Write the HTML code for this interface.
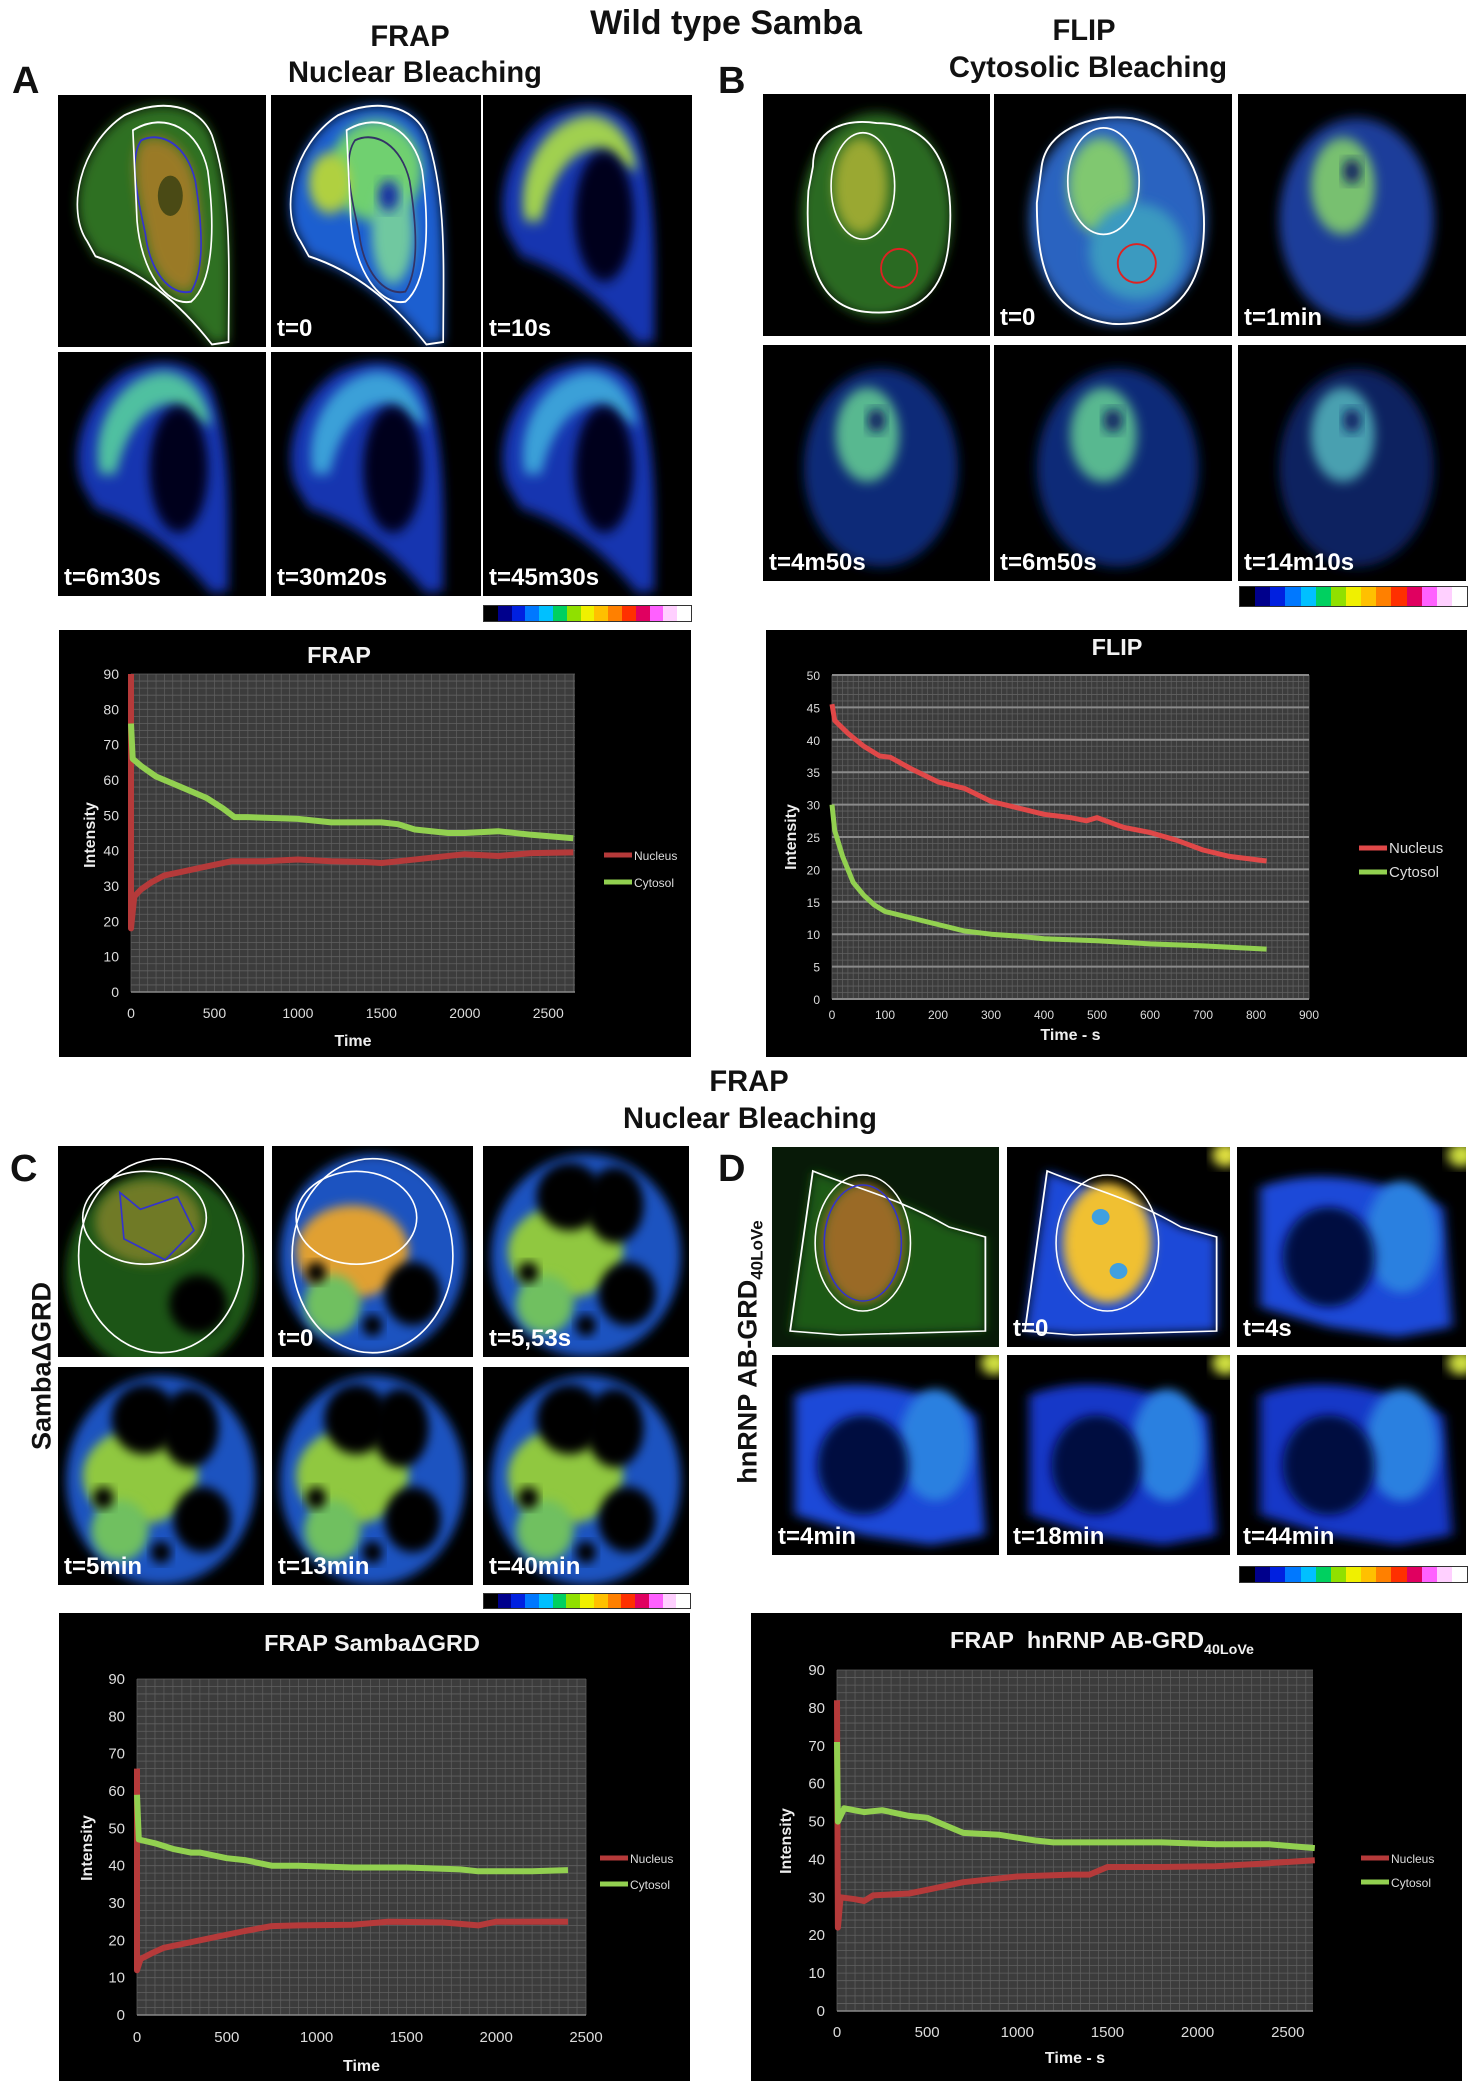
<!DOCTYPE html>
<html><head><meta charset="utf-8">
<style>
body{margin:0;background:#fff;width:1470px;height:2089px;position:relative;overflow:hidden;font-family:"Liberation Sans Narrow","Liberation Sans",sans-serif;}
.t{position:absolute;font-weight:bold;color:#111;white-space:nowrap;transform:translateX(-50%) scaleX(0.97);font-size:30px;line-height:1;}
.lbl{position:absolute;font-family:"Liberation Sans",sans-serif;font-weight:bold;font-size:38px;color:#111;line-height:1;}
.panel{position:absolute;background:#000;overflow:hidden;}
.panel svg{position:absolute;left:0;top:0;width:100%;height:100%;}
.tl{position:absolute;left:6px;bottom:4px;color:#fff;font-family:"Liberation Sans",sans-serif;font-weight:bold;font-size:24px;}
.cbar{position:absolute;display:flex;border:1px solid #333;}
.cbar div{flex:1;}
.chart{position:absolute;background:#000;}
.rot{position:absolute;font-family:"Liberation Sans",sans-serif;font-weight:bold;font-size:27px;color:#111;transform:translate(-50%,-50%) rotate(-90deg);white-space:nowrap;}
</style></head>
<body>
<div class="t" style="left:726px;top:6px;font-size:34px;transform:translateX(-50%)">Wild type Samba</div>
<div class="t" style="left:410px;top:22px">FRAP</div>
<div class="t" style="left:415px;top:58px">Nuclear Bleaching</div>
<div class="t" style="left:1084px;top:16px">FLIP</div>
<div class="t" style="left:1088px;top:53px">Cytosolic Bleaching</div>
<div class="lbl" style="left:12px;top:62px">A</div>
<div class="lbl" style="left:718px;top:62px">B</div>
<div class="t" style="left:749px;top:1067px">FRAP</div>
<div class="t" style="left:750px;top:1104px">Nuclear Bleaching</div>
<div class="lbl" style="left:10px;top:1150px">C</div>
<div class="lbl" style="left:718px;top:1150px">D</div>
<div class="rot" style="left:42px;top:1366px">SambaΔGRD</div>
<div class="rot" style="left:750px;top:1352px">hnRNP AB-GRD<sub style="font-size:17px">40LoVe</sub></div>

<div id="panels"></div>
<div id="charts"></div>

<script>
// ---------- microscopy panels ----------
const panelSpecs = [
 ['a1',58,95,208,252,'A-pre',''],['a2',271,95,210,252,'A-t0','t=0'],['a3',483,95,209,252,'A-l1','t=10s'],
 ['a4',58,352,208,244,'A-l2','t=6m30s'],['a5',271,352,210,244,'A-l3','t=30m20s'],['a6',483,352,209,244,'A-l3','t=45m30s'],
 ['b1',763,94,227,242,'B-pre',''],['b2',994,94,238,242,'B-t0','t=0'],['b3',1238,94,228,242,'B-l1','t=1min'],
 ['b4',763,345,227,236,'B-l2','t=4m50s'],['b5',994,345,238,236,'B-l2','t=6m50s'],['b6',1238,345,228,236,'B-l3','t=14m10s'],
 ['c1',58,1146,206,211,'C-pre',''],['c2',272,1146,201,211,'C-t0','t=0'],['c3',483,1146,206,211,'C-l1','t=5,53s'],
 ['c4',58,1367,206,218,'C-l2','t=5min'],['c5',272,1367,201,218,'C-l2','t=13min'],['c6',483,1367,206,218,'C-l2','t=40min'],
 ['d1',772,1147,227,200,'D-pre',''],['d2',1007,1147,223,200,'D-t0','t=0'],['d3',1237,1147,229,200,'D-l1','t=4s'],
 ['d4',772,1355,227,200,'D-l1','t=4min'],['d5',1007,1355,223,200,'D-l2','t=18min'],['d6',1237,1355,229,200,'D-l2','t=44min']
];
const cellA="M14,58 C4,46 10,20 32,8 C50,1 68,4 74,16 C84,40 82,70 82,98 L74,99 C58,82 40,70 18,64 Z";
const nucA="M40,18 C50,14 62,20 66,34 C70,55 70,70 64,78 C54,80 44,70 42,55 C38,40 34,25 40,18 Z";
const cellD="M18,12 C35,20 55,25 78,40 L94,45 L94,92 L30,94 L8,92 Z";
function content(kind){
 let s='<defs><filter id="bl" x="-20%" y="-20%" width="140%" height="140%"><feGaussianBlur stdDeviation="2.5"/></filter></defs>';
 const g='filter="url(#bl)"';
 if(kind==='A-pre'){s+=`<path d="${cellA}" fill="#2f7020" ${g}/><path d="${nucA}" fill="#9a7a25" ${g}/><ellipse cx="54" cy="40" rx="6" ry="8" fill="#4a4a15"/><path d="${cellA}" fill="none" stroke="#fff" stroke-width="0.8"/><path d="${nucA}" fill="none" stroke="#33c" stroke-width="0.8"/><path d="M36,14 C52,6 68,14 72,30 C76,55 74,75 64,82 C52,84 40,70 38,50 Z" fill="none" stroke="#fff" stroke-width="0.8"/>`;}
 if(kind==='A-t0'){s+=`<path d="${cellA}" fill="#1d5fd0" ${g}/><ellipse cx="50" cy="30" rx="22" ry="20" fill="#6fd070" ${g}/><ellipse cx="58" cy="55" rx="10" ry="20" fill="#70c8a0" ${g}/><ellipse cx="28" cy="35" rx="10" ry="12" fill="#b0d040" ${g}/><ellipse cx="56" cy="40" rx="5" ry="6" fill="#1830a0" ${g}/><path d="${cellA}" fill="none" stroke="#fff" stroke-width="0.8"/><path d="${nucA}" fill="none" stroke="#336" stroke-width="0.8"/><path d="M36,14 C52,6 68,14 72,30 C76,55 74,75 64,82 C52,84 40,70 38,50 Z" fill="none" stroke="#fff" stroke-width="0.8"/>`;}
 if(kind.startsWith('A-l')){const c=kind==='A-l1'?'#a0d050':(kind==='A-l2'?'#50c0a0':'#3aa0d8');s+=`<path d="${cellA}" fill="#1535b0" ${g}/><path d="M20,50 C15,30 30,10 50,8 C65,8 72,20 74,30 L66,28 C55,15 35,22 28,50 Z" fill="${c}" ${g}/><ellipse cx="58" cy="48" rx="14" ry="26" fill="#02061a" ${g}/>`;}
 if(kind==='B-pre'){s+=`<ellipse cx="50" cy="50" rx="33" ry="42" fill="#2c6a20" ${g}/><ellipse cx="43" cy="38" rx="12" ry="20" fill="#9aa830" ${g}/><path d="M22,30 C22,15 35,10 50,12 C75,12 85,30 82,60 C80,85 65,92 45,90 C25,88 18,70 20,40 Z" fill="none" stroke="#fff" stroke-width="0.8"/><ellipse cx="44" cy="38" rx="14" ry="22" fill="none" stroke="#fff" stroke-width="0.7"/><circle cx="60" cy="72" r="8" fill="none" stroke="#d22" stroke-width="0.8"/>`;}
 if(kind==='B-t0'){s+=`<ellipse cx="52" cy="52" rx="37" ry="43" fill="#2a64c0" ${g}/><ellipse cx="45" cy="38" rx="14" ry="20" fill="#80c870" ${g}/><ellipse cx="60" cy="65" rx="20" ry="20" fill="#3a9ac0" ${g}/><path d="M20,30 C22,15 40,8 58,10 C80,14 90,35 88,60 C86,85 70,96 50,95 C25,92 18,75 18,45 Z" fill="none" stroke="#fff" stroke-width="0.8"/><ellipse cx="46" cy="36" rx="15" ry="22" fill="none" stroke="#fff" stroke-width="0.7"/><circle cx="60" cy="70" r="8" fill="none" stroke="#d22" stroke-width="0.8"/>`;}
 if(kind.startsWith('B-l')){const k={'B-l1':['#1a3c9a','#78c070'],'B-l2':['#0f2a78','#58b890'],'B-l3':['#0c2060','#4aa0b0']}[kind];s+=`<ellipse cx="52" cy="52" rx="34" ry="42" fill="${k[0]}" ${g}/><ellipse cx="46" cy="38" rx="14" ry="20" fill="${k[1]}" ${g}/><ellipse cx="50" cy="32" rx="4" ry="5" fill="#0a1a60" ${g}/>`;}
 if(kind==='C-pre'){s+=`<ellipse cx="50" cy="60" rx="46" ry="48" fill="#1f5518" ${g}/><ellipse cx="44" cy="36" rx="26" ry="20" fill="#707a25" ${g}/><ellipse cx="68" cy="75" rx="14" ry="14" fill="#000" ${g}/><ellipse cx="50" cy="52" rx="40" ry="46" fill="none" stroke="#fff" stroke-width="0.8"/><ellipse cx="42" cy="34" rx="30" ry="22" fill="none" stroke="#fff" stroke-width="0.8"/><path d="M30,22 L40,30 L58,24 L66,40 L52,54 L32,44 Z" fill="none" stroke="#33c" stroke-width="0.8"/>`;}
 if(kind.startsWith('C-') && kind!=='C-pre'){const warm=kind==='C-t0';s+=`<ellipse cx="50" cy="52" rx="46" ry="48" fill="#1a52c0" ${g}/><ellipse cx="40" cy="50" rx="28" ry="22" fill="${warm?'#e0a030':'#90c840'}" ${g}/><ellipse cx="30" cy="75" rx="14" ry="14" fill="#70c060" ${g}/>`+(warm?'':`<ellipse cx="42" cy="24" rx="16" ry="16" fill="#000" ${g}/><ellipse cx="64" cy="28" rx="14" ry="18" fill="#000" ${g}/>`)+`<ellipse cx="70" cy="70" rx="14" ry="15" fill="#000" ${g}/><circle cx="22" cy="60" r="5" fill="#000" ${g}/><circle cx="50" cy="85" r="5" fill="#000" ${g}/>`+(warm?`<ellipse cx="50" cy="52" rx="40" ry="46" fill="none" stroke="#fff" stroke-width="0.8"/><ellipse cx="42" cy="34" rx="30" ry="22" fill="none" stroke="#fff" stroke-width="0.8"/>`:'');}
 if(kind==='D-pre'){s+=`<rect width="100" height="100" fill="#081a08"/><path d="${cellD}" fill="#1f5a18" ${g}/><ellipse cx="40" cy="48" rx="18" ry="30" fill="#9a6a25" ${g}/><path d="${cellD}" fill="none" stroke="#fff" stroke-width="0.8"/><ellipse cx="40" cy="48" rx="21" ry="34" fill="none" stroke="#fff" stroke-width="0.7"/><ellipse cx="40" cy="48" rx="17" ry="29" fill="none" stroke="#33c" stroke-width="0.7"/>`;}
 if(kind==='D-t0'){s+=`<path d="${cellD}" fill="#1a48d8" ${g}/><ellipse cx="45" cy="48" rx="20" ry="30" fill="#f0c030" ${g}/><circle cx="42" cy="35" r="4" fill="#40a0e0"/><circle cx="50" cy="62" r="4" fill="#40a0e0"/><path d="${cellD}" fill="none" stroke="#fff" stroke-width="0.8"/><ellipse cx="45" cy="48" rx="23" ry="34" fill="none" stroke="#fff" stroke-width="0.7"/><circle cx="98" cy="4" r="6" fill="#e0e040" ${g}/>`;}
 if(kind.startsWith('D-l')){s+=`<path d="M10,20 C35,10 60,15 90,30 L94,90 L70,95 L40,90 L10,80 Z" fill="${kind==='D-l1'?'#1e48d8':'#1838c8'}" ${g}/><ellipse cx="72" cy="45" rx="16" ry="28" fill="#2a80e0" ${g}/><ellipse cx="40" cy="55" rx="20" ry="25" fill="#040a40" ${g}/><circle cx="98" cy="4" r="6" fill="#d0e040" ${g}/>`;}
 return s;
}
const pc=document.getElementById('panels');
panelSpecs.forEach(p=>{
 const d=document.createElement('div');
 d.className='panel';
 
 
 d.style.cssText=`left:${p[1]}px;top:${p[2]}px;width:${p[3]}px;height:${p[4]}px`;
 d.innerHTML=`<svg viewBox="0 0 100 100" preserveAspectRatio="none">${content(p[5])}</svg>`+(p[6]?`<div class="tl">${p[6]}</div>`:'');
 pc.appendChild(d);
});
const cbColors=['#000','#00008c','#0020e0','#0078ff','#00c0ff','#00d060','#90e000','#f0f000','#ffc000','#ff8000','#ff3000','#e00060','#ff60ff','#ffd0ff','#fff'];
[[483,605,207,15],[1239,586,227,19],[483,1593,206,14],[1239,1566,227,15]].forEach((c,i)=>{
 const d=document.createElement('div');
 d.className='cbar';
 
 
 d.style.cssText=`left:${c[0]}px;top:${c[1]}px;width:${c[2]}px;height:${c[3]}px`;
 d.innerHTML=cbColors.map(k=>`<div style="background:${k}"></div>`).join('');
 pc.appendChild(d);
});

// ---------- chart data ----------
const frapTimeNuc=[0,0,20,60,120,200,300,400,500,600,700,800,1000,1200,1400,1500,1600,1800,2000,2200,2400,2650];
const frapNucleus=[90,18,27,29,31,33,34,35,36,37,37,37,37.5,37,36.8,36.5,37,38,39,38.5,39.3,39.5];
const frapTimeCyt=[0,10,60,150,250,350,450,550,620,700,1000,1200,1500,1600,1700,1900,2000,2200,2400,2650];
const frapCytosol=[76,66,64,61,59,57,55,52,49.5,49.5,49,48,48,47.5,46,45,45,45.5,44.5,43.5];
const flipTimeNuc=[0,5,30,60,90,110,150,200,250,300,350,400,450,480,500,550,600,650,700,750,820];
const flipNucleus=[45.5,43,41,39,37.5,37.3,35.5,33.5,32.5,30.5,29.5,28.5,28,27.5,28,26.5,25.7,24.5,23,22,21.3];
const flipTimeCyt=[0,5,20,40,60,80,100,150,200,250,300,350,400,500,600,700,820];
const flipCytosol=[30,26,22,18,16,14.5,13.5,12.5,11.5,10.5,10,9.7,9.3,9,8.5,8.2,7.7];
const cTimeNuc=[0,0,20,80,150,300,450,600,750,900,1200,1400,1700,1900,2000,2200,2400];
const cNucleus=[66,12,15,16.5,18,19.5,21,22.5,23.8,24,24.2,25,24.8,24,25,25,25];
const cTimeCyt=[0,10,100,200,300,350,500,600,750,900,1200,1500,1800,1900,2200,2400];
const cCytosol=[59,47,46,44.5,43.5,43.5,42,41.5,40,40,39.5,39.5,39,38.5,38.5,38.8];
const dTimeNuc=[0,5,20,100,150,200,400,500,700,1000,1300,1400,1500,1800,2100,2400,2650];
const dNucleus=[82,22,30,29.5,29,30.5,31,32,34,35.5,36,36,38,38,38.2,39,39.8];
const dTimeCyt=[0,5,40,150,250,400,500,700,900,1100,1200,1500,1800,2100,2400,2650];
const dCytosol=[71,50,53.5,52.5,53,51.5,51,47,46.5,45,44.5,44.5,44.5,44,44,43];
const yTicks90=['0','10','20','30','40','50','60','70','80','90'];
const yTicks50=['0','5','10','15','20','25','30','35','40','45','50'];
const xTicks2500=['0','500','1000','1500','2000','2500'];
const xTicks900=['0','100','200','300','400','500','600','700','800','900'];

const NS='http://www.w3.org/2000/svg';
function el(tag,attrs,parent){const e=document.createElementNS(NS,tag);for(const k in attrs)e.setAttribute(k,attrs[k]);parent.appendChild(e);return e;}
function chart(cfg){
 const box=document.createElement('div');
 box.className='chart';
 
 
 box.style.cssText=`left:${cfg.x}px;top:${cfg.y}px;width:${cfg.w}px;height:${cfg.h}px`;
 document.getElementById('charts').appendChild(box);
 const svg=el('svg',{width:cfg.w,height:cfg.h},box);
 svg.style.fontFamily='"Liberation Sans Narrow","Liberation Sans",sans-serif';
 const p=cfg.plot;
 const sx=v=>p[0]+(v-cfg.xmin)/(cfg.xmax-cfg.xmin)*(p[2]-p[0]);
 const sy=v=>p[3]-(v-cfg.ymin)/(cfg.ymax-cfg.ymin)*(p[3]-p[1]);
 const bg=el('rect',{x:p[0],y:p[1],width:p[2]-p[0],height:p[3]-p[1],fill:'#3c3c3c'},svg);
 
 
 for(let v=cfg.xmin;v<=cfg.xmax+1e-6;v+=cfg.xminor){el('line',{x1:sx(v),x2:sx(v),y1:p[1],y2:p[3],stroke:'#5c5c5c','stroke-width':0.8},svg);}
 for(let v=cfg.ymin;v<=cfg.ymax+1e-6;v+=cfg.yminor){el('line',{x1:p[0],x2:p[2],y1:sy(v),y2:sy(v),stroke:'#606060','stroke-width':0.8},svg);}
 if(cfg.ymajorLines){cfg.yTicks.forEach(t=>{el('line',{x1:p[0],x2:p[2],y1:sy(+t),y2:sy(+t),stroke:'#8a8a8a','stroke-width':2},svg);});}
 el('line',{x1:p[0],x2:p[2],y1:p[3],y2:p[3],stroke:'#888','stroke-width':1.5},svg);
 cfg.yTicks.forEach(t=>{const e=el('text',{x:p[0]-12,y:sy(+t)+5,fill:'#ddd','font-size':cfg.fs,'text-anchor':'end'},svg);e.textContent=t;});
 cfg.xTicks.forEach(t=>{const e=el('text',{x:sx(+t),y:cfg.tickY,fill:'#ddd','font-size':cfg.fs,'text-anchor':'middle'},svg);e.textContent=t;});
 let e=el('text',{x:0,y:0,fill:'#f2f2f2','font-size':23,'font-weight':'bold','text-anchor':'middle',transform:`translate(${cfg.titleX},${cfg.titleY}) scale(1.02,1)`},svg);
 e.innerHTML=cfg.title;
 
 
 e=el('text',{x:(p[0]+p[2])/2,y:cfg.xlabY,fill:'#eee','font-size':16,'font-weight':'bold','text-anchor':'middle'},svg);
 e.textContent=cfg.xlab;
 
 
 e=el('text',{x:0,y:0,fill:'#eee','font-size':16,'font-weight':'bold','text-anchor':'middle','font-family':'Liberation Sans, sans-serif',transform:`translate(${cfg.ylabX},${cfg.ylabY}) rotate(-90)`},svg);
 e.textContent='Intensity';
 
 
 cfg.series.forEach((s,i)=>{
  const pts=s.t.map((t,j)=>sx(t).toFixed(1)+','+sy(s.v[j]).toFixed(1)).join(' ');
  const ln=el('polyline',{points:pts,fill:'none',stroke:s.color,'stroke-width':cfg.lw,'stroke-linejoin':'round'},svg);
  
  
  const ly=cfg.legY[i];
  const lg=el('line',{x1:cfg.legX,x2:cfg.legX+28,y1:ly,y2:ly,stroke:s.color,'stroke-width':5},svg);
  
  
  const lt=el('text',{x:cfg.legX+30,y:ly+5,fill:'#ddd','font-size':cfg.legFs},svg);
  lt.textContent=s.label;
  
  
 });
}
const RED='#b53a3a',GREEN='#92d050';
chart({name:'frap-wildtype-chart',x:59,y:630,w:632,h:427,plot:[72,44,516,362],xmin:0,xmax:2660,ymin:0,ymax:90,xminor:50,yminor:2,
 yTicks:yTicks90,xTicks:xTicks2500,fs:14,tickY:388,title:'FRAP',titleX:280,titleY:33,xlab:'Time',xlabY:416,ylabX:36,ylabY:205,lw:6,
 legX:545,legY:[225,252],legFs:12,series:[{t:frapTimeNuc,v:frapNucleus,color:RED,label:'Nucleus'},{t:frapTimeCyt,v:frapCytosol,color:GREEN,label:'Cytosol'}]});
chart({name:'flip-wildtype-chart',x:766,y:630,w:701,h:427,plot:[66,45,543,369],xmin:0,xmax:900,ymin:0,ymax:50,xminor:10,yminor:1,ymajorLines:true,
 yTicks:yTicks50,xTicks:xTicks900,fs:12,tickY:389,title:'FLIP',titleX:351,titleY:25,xlab:'Time - s',xlabY:410,ylabX:30,ylabY:207,lw:5,
 legX:593,legY:[218,242],legFs:15,series:[{t:flipTimeNuc,v:flipNucleus,color:'#e04848',label:'Nucleus'},{t:flipTimeCyt,v:flipCytosol,color:GREEN,label:'Cytosol'}]});
chart({name:'frap-samba-dgrd-chart',x:59,y:1613,w:631,h:468,plot:[78,66,527,402],xmin:0,xmax:2500,ymin:0,ymax:90,xminor:50,yminor:2,
 yTicks:yTicks90,xTicks:xTicks2500,fs:15,tickY:429,title:'FRAP SambaΔGRD',titleX:313,titleY:38,xlab:'Time',xlabY:458,ylabX:33,ylabY:235,lw:6,
 legX:541,legY:[245,271],legFs:12,series:[{t:cTimeNuc,v:cNucleus,color:RED,label:'Nucleus'},{t:cTimeCyt,v:cCytosol,color:GREEN,label:'Cytosol'}]});
chart({name:'frap-hnrnp-chart',x:751,y:1613,w:711,h:468,plot:[86,57,562,398],xmin:0,xmax:2640,ymin:0,ymax:90,xminor:50,yminor:2,
 yTicks:yTicks90,xTicks:xTicks2500,fs:15,tickY:424,title:'FRAP&#160; hnRNP AB-GRD<tspan font-size="14" dy="6">40LoVe</tspan>',titleX:351,titleY:35,xlab:'Time - s',xlabY:450,ylabX:40,ylabY:228,lw:6,
 legX:610,legY:[245,269],legFs:12,series:[{t:dTimeNuc,v:dNucleus,color:RED,label:'Nucleus'},{t:dTimeCyt,v:dCytosol,color:GREEN,label:'Cytosol'}]});
</script>
</body></html>
